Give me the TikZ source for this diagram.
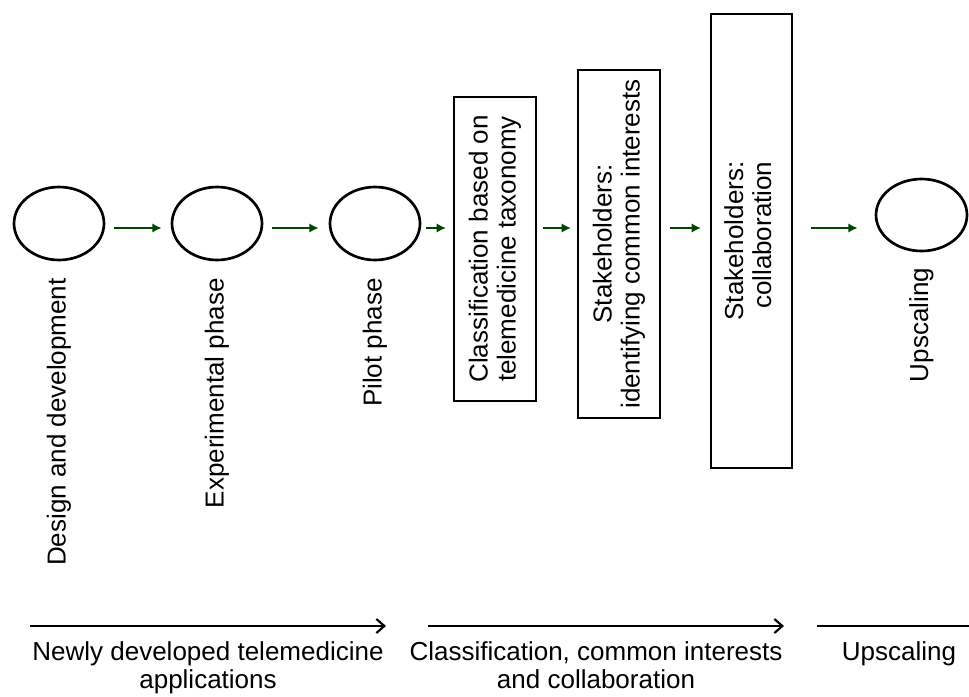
\documentclass[tikz,border=0pt]{standalone}
\usepackage{fontspec}
\setmainfont{Liberation Sans}
\usetikzlibrary{shapes.geometric,arrows.meta}

\definecolor{flowgreen}{RGB}{0,70,0}

\tikzset{
  phase/.style={draw, ellipse, line width=2pt, minimum width=67.5pt, minimum height=54.75pt, inner sep=0pt},
  stagebox/.style={draw, rectangle, line width=1.5pt, rotate=90, align=center, inner sep=0pt, minimum height=61.5pt},
  vlabel/.style={rotate=90, anchor=east, inner sep=0pt},
  flow/.style={flowgreen, line width=2pt, -{Latex[length=7pt,width=7pt]}},
  period/.style={line width=1.6pt},
}

\begin{document}
\begin{tikzpicture}[x=0.75pt,y=-0.75pt,
  every node/.style={font=\fontsize{19.5}{21}\selectfont}]

\useasboundingbox (0,0) rectangle (969,696);

% phases of the new applications
\node[phase] (design) at (59,223.5) {};
\node[phase] (experiment) at (217,223.5) {};
\node[phase] (pilot) at (375,223.5) {};
\node[phase, minimum width=68.25pt, minimum height=54pt] (upscale) at (921.5,215) {};

\node[vlabel] (designlbl) at ([yshift=-12.5pt]design.south) {Design and development};
\node[vlabel] (experimentlbl) at ([yshift=-12.5pt]experiment.south) {Experimental phase};
\node[vlabel] (pilotlbl) at ([yshift=-12.5pt]pilot.south) {Pilot phase};
\node[vlabel] (upscalelbl) at ([yshift=-11.5pt]upscale.south) {Upscaling};

% classification and stakeholders (rotated: north is left, south is right)
\node[stagebox, minimum width=228pt] (classif) at (495,249)
  {Classification based on\\telemedicine taxonomy};
\node[stagebox, minimum width=261pt] (identify) at (619,244)
  {Stakeholders:\\identifying common interests};
\node[stagebox, minimum width=340.5pt, minimum height=60.75pt] (collab) at (751.5,241)
  {\begin{tabular}{@{}r@{}}Stakeholders:\\collaboration\end{tabular}};

\coordinate (row) at (0,228);

\draw[flow, shorten <=6.75pt, shorten >=6.75pt] (design.east |- row) -- (experiment.west |- row);
\draw[flow, shorten <=6.75pt, shorten >=7.5pt] (experiment.east |- row) -- (pilot.west |- row);
\draw[flow, shorten <=3.75pt, shorten >=5.25pt] (pilot.east |- row) -- (classif.north |- row);
\draw[flow, shorten <=4.5pt, shorten >=4.5pt] (classif.south |- row) -- (identify.north |- row);
\draw[flow, shorten <=6.75pt, shorten >=6.75pt] (identify.south |- row) -- (collab.north |- row);
\draw[flow, shorten <=13.5pt, shorten >=12.75pt] (collab.south |- row) -- (upscale.west |- row);

% periods along the bottom
\coordinate (newstart) at (30,626);
\coordinate (newend) at (386,626);
\coordinate (classstart) at (428,626);
\coordinate (classend) at (784,626);
\coordinate (upstart) at (817,626);
\coordinate (upend) at (969,626);

\draw[period, -{Straight Barb[length=6pt,width=10.5pt,line width=1.6pt]}] (newstart) -- (newend);
\draw[period, -{Straight Barb[length=6pt,width=10.5pt,line width=1.6pt]}] (classstart) -- (classend);
\draw[period] (upstart) -- (upend);

\node[align=center, anchor=north, inner sep=0pt] (newlbl) at (208,641)
  {Newly developed telemedicine\\applications};
\node[align=center, anchor=north, inner sep=0pt] (classlbl) at (596,641)
  {Classification, common interests\\and collaboration};
\node[anchor=north, inner sep=0pt] (uplbl) at (899,641) {Upscaling};

\end{tikzpicture}
\end{document}
